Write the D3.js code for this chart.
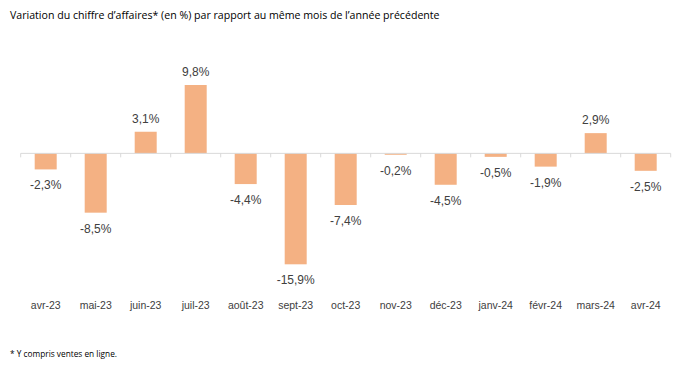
<!DOCTYPE html>
<html><head><meta charset="utf-8">
<script src="https://cdn.jsdelivr.net/npm/d3@7"></script>
<style>body{margin:0;background:#fff}svg{display:block}</style>
</head><body>
<svg id="c" width="678" height="381"></svg>
<script>
const categories = ["avr-23","mai-23","juin-23","juil-23","août-23","sept-23","oct-23","nov-23","déc-23","janv-24","févr-24","mars-24","avr-24"];
const values = [-2.3,-8.5,3.1,9.8,-4.4,-15.9,-7.4,-0.2,-4.5,-0.5,-1.9,2.9,-2.5];
const title = "Variation du chiffre d’affaires* (en %) par rapport au même mois de l’année précédente";
const footnote = "* Y compris ventes en ligne.";

const svg = d3.select("#c");
const x = d3.scaleBand().domain(categories).range([20.7, 670.7]).paddingInner(0.56).paddingOuter(0.28);
const y = d3.scaleLinear().domain([-15.9, 9.8]).range([264.3, 85]);
const fmt = v => d3.format(".1f")(v).replace(".", ",").replace("\u2212", "-") + "%";

svg.append("text").attr("x", 10).attr("y", 19).text(title)
  .attr("font-family", "Open Sans, sans-serif").attr("font-size", 10.6).attr("fill", "#000");

// bars
svg.selectAll("rect.bar").data(values).join("rect").attr("class","bar")
  .attr("x", (d,i) => x(categories[i]))
  .attr("width", x.bandwidth())
  .attr("y", d => y(Math.max(0,d)))
  .attr("height", d => Math.abs(y(d) - y(0)))
  .attr("fill", "#F4B183");

// axis
const ax = svg.append("g").attr("transform", `translate(0,${y(0)})`);
ax.append("line").attr("x1", 20.7).attr("x2", 670.7).attr("y1", 0).attr("y2", 0).attr("stroke", "#d9d9d9").attr("stroke-width", 1);
const bounds = d3.range(categories.length + 1).map(i => 20.7 + i * x.step());
ax.selectAll("line.tick").data(bounds).join("line").attr("class","tick")
  .attr("x1", d => d).attr("x2", d => d).attr("y1", 0).attr("y2", 4).attr("stroke", "#d9d9d9");

// value labels
svg.selectAll("text.val").data(values).join("text").attr("class","val")
  .attr("x", (d,i) => x(categories[i]) + x.bandwidth()/2)
  .attr("y", d => d >= 0 ? y(d) - 9 : y(d) + 20)
  .attr("text-anchor", "middle")
  .attr("font-family", "Liberation Sans, Arial, sans-serif").attr("font-size", 12).attr("fill", "#404040")
  .text(fmt);

// category labels
svg.selectAll("text.cat").data(categories).join("text").attr("class","cat")
  .attr("x", d => x(d) + x.bandwidth()/2).attr("y", 309)
  .attr("text-anchor", "middle")
  .attr("font-family", "Liberation Sans, Arial, sans-serif").attr("font-size", 10.5).attr("fill", "#404040")
  .text(d => d);

svg.append("text").attr("x", 10).attr("y", 357).text(footnote)
  .attr("font-family", "Open Sans, sans-serif").attr("font-size", 8.3).attr("fill", "#000");
</script>
</body></html>
